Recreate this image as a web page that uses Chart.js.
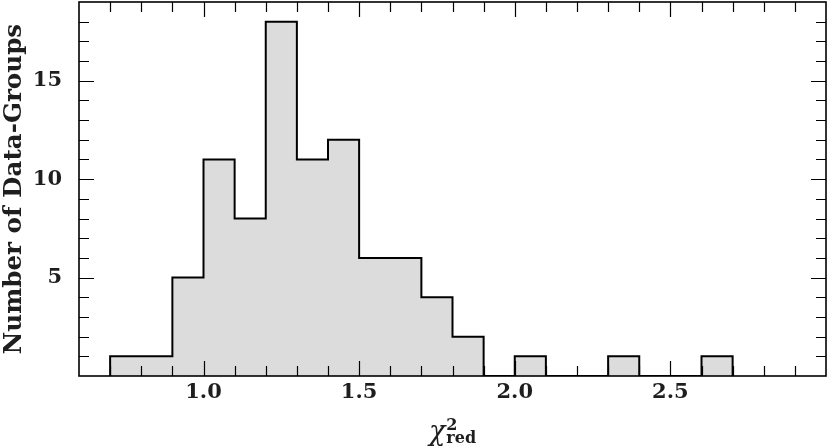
<!DOCTYPE html>
<html><head><meta charset="utf-8">
<script src="https://cdn.jsdelivr.net/npm/chart.js@4"></script>
<style>html,body{margin:0;padding:0;background:#fff;}</style>
</head><body>
<canvas id="c" width="830" height="446" style="width:830px;height:446px;display:block"></canvas>
<script>
// ---- data ----
const binEdges = [0.7,0.8,0.9,1.0,1.1,1.2,1.3,1.4,1.5,1.6,1.7,1.8,1.9,2.0,2.1,2.2,2.3,2.4,2.5,2.6,2.7];
const counts   = [1,1,5,11,8,18,11,12,6,6,4,2,0,1,0,0,1,0,0,1];
const xTickLabels = [1.0, 1.5, 2.0, 2.5];
const yTickLabels = [5, 10, 15];
const xTitleMain = 'χ', xTitleSup = '2', xTitleSub = 'red';
const yTitleText = 'Number of Data-Groups';

// step outline points built from bin edges and counts
const stepPoints = [{x: binEdges[0], y: 0}];
counts.forEach((c, i) => stepPoints.push({x: binEdges[i], y: c}));
stepPoints.push({x: binEdges[binEdges.length - 1], y: 0});

const SERIF = "'DejaVu Serif', 'Liberation Serif', serif";
const TXT = '#1e1e1e';

const frameTicks = {
  id: 'frameTicks',
  afterDatasetsDraw(chart) {
    const {ctx, chartArea: a, scales: {x, y}} = chart;
    ctx.save();
    ctx.strokeStyle = '#000';
    ctx.lineCap = 'butt';
    ctx.lineWidth = 1.2;
    ctx.beginPath();
    for (let i = 6; i <= 30; i++) {
      const v = i / 10;
      if (v <= x.min || v >= x.max) continue;
      const px = Math.round(x.getPixelForValue(v)) + 0.5;
      const len = (i % 5 === 0) ? 15 : 10;
      ctx.moveTo(px, a.bottom); ctx.lineTo(px, a.bottom - len);
      ctx.moveTo(px, a.top); ctx.lineTo(px, a.top + len);
    }
    for (let v = 1; v < y.max; v++) {
      const py = Math.round(y.getPixelForValue(v)) + 0.5;
      const len = (v % 5 === 0) ? 15 : 10;
      ctx.moveTo(a.left, py); ctx.lineTo(a.left + len, py);
      ctx.moveTo(a.right, py); ctx.lineTo(a.right - len, py);
    }
    ctx.stroke();
    ctx.lineWidth = 1.6;
    ctx.strokeRect(a.left, a.top, a.right - a.left, a.bottom - a.top);
    ctx.restore();
  },
  afterDraw(chart) {
    const {ctx, chartArea: a} = chart;
    ctx.save();
    ctx.fillStyle = TXT;
    ctx.textBaseline = 'alphabetic';
    const mainFont = "italic 27px " + SERIF;
    const smallFont = "bold 16px " + SERIF;
    ctx.font = mainFont;
    const wMain = ctx.measureText(xTitleMain).width;
    ctx.font = smallFont;
    const wSub = ctx.measureText(xTitleSub).width;
    const wSup = ctx.measureText(xTitleSup).width;
    const total = wMain + 1 + Math.max(wSub, wSup);
    const cx = (a.left + a.right) / 2;
    const x0 = cx - total / 2;
    ctx.font = mainFont;
    ctx.fillText(xTitleMain, x0, 440);
    ctx.font = smallFont;
    ctx.fillText(xTitleSup, x0 + wMain + 1, 430);
    ctx.fillText(xTitleSub, x0 + wMain + 1, 443);
    ctx.restore();
  }
};

new Chart(document.getElementById('c'), {
  type: 'line',
  data: {
    datasets: [{
      data: stepPoints,
      stepped: true,
      fill: 'origin',
      backgroundColor: '#dcdcdc',
      borderColor: '#000',
      borderWidth: 2,
      borderJoinStyle: 'miter',
      borderCapStyle: 'butt',
      pointRadius: 0,
      pointHoverRadius: 0,
      tension: 0
    }]
  },
  options: {
    responsive: false,
    devicePixelRatio: 1,
    animation: false,
    events: [],
    layout: {padding: {left: 0, top: 2, right: 4, bottom: 0}},
    plugins: {legend: {display: false}, tooltip: {enabled: false}},
    scales: {
      x: {
        type: 'linear', min: 0.6, max: 3.0,
        grid: {display: false}, border: {display: false},
        afterBuildTicks: s => { s.ticks = xTickLabels.map(v => ({value: v})); },
        afterFit: s => { s.height = 70; s.paddingLeft = 0; s.paddingRight = 0; },
        ticks: {
          autoSkip: false, maxRotation: 0, padding: -4, color: TXT,
          font: {family: SERIF, weight: 'bold', size: 21},
          callback: v => Number(v).toFixed(1)
        }
      },
      y: {
        type: 'linear', min: 0, max: 19,
        grid: {display: false}, border: {display: false},
        afterBuildTicks: s => { s.ticks = yTickLabels.map(v => ({value: v})); },
        afterFit: s => { s.width = 79; s.paddingTop = 0; s.paddingBottom = 0; },
        ticks: {
          autoSkip: false, padding: 9, color: TXT,
          font: {family: SERIF, weight: 'bold', size: 21}
        },
        title: {
          display: true, text: yTitleText, color: TXT,
          padding: {top: 0, bottom: 0},
          font: {family: SERIF, weight: 'bold', size: 24.6}
        }
      }
    }
  },
  plugins: [frameTicks]
});
</script>
</body></html>
